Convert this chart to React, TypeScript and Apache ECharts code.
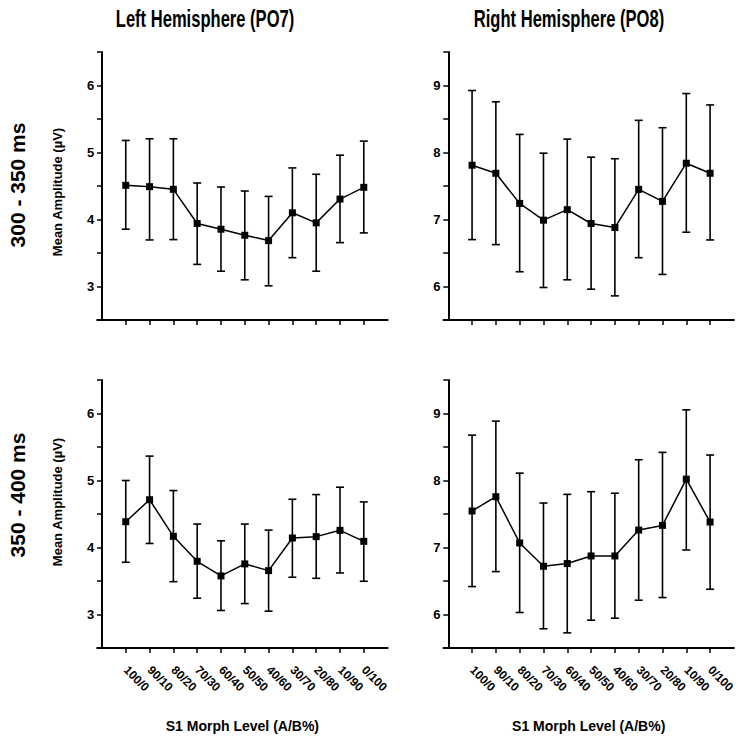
import React, { useEffect, useRef } from "react";
import * as echarts from "echarts";

const categories = ["100/0", "90/10", "80/20", "70/30", "60/40", "50/50", "40/60", "30/70", "20/80", "10/90", "0/100"];

// 300 - 350 ms, Left Hemisphere (PO7)
const leftEarlyMean = [4.51, 4.49, 4.45, 3.94, 3.855, 3.765, 3.685, 4.1, 3.95, 4.305, 4.48];
const leftEarlyUpper = [5.18, 5.205, 5.205, 4.545, 4.485, 4.425, 4.345, 4.77, 4.675, 4.96, 5.17];
const leftEarlyLower = [3.855, 3.695, 3.7, 3.33, 3.228, 3.1, 3.01, 3.43, 3.228, 3.655, 3.8];

// 300 - 350 ms, Right Hemisphere (PO8)
const rightEarlyMean = [7.81, 7.69, 7.24, 6.99, 7.147, 6.94, 6.88, 7.45, 7.27, 7.84, 7.69];
const rightEarlyUpper = [8.925, 8.757, 8.27, 7.99, 8.2, 7.93, 7.907, 8.48, 8.37, 8.88, 8.71];
const rightEarlyLower = [6.7, 6.625, 6.22, 5.985, 6.1, 5.96, 5.86, 6.43, 6.18, 6.81, 6.695];

// 350 - 400 ms, Left Hemisphere (PO7)
const leftLateMean = [4.385, 4.713, 4.167, 3.794, 3.576, 3.755, 3.655, 4.142, 4.162, 4.256, 4.092];
const leftLateUpper = [5.0, 5.364, 4.85, 4.35, 4.1, 4.35, 4.26, 4.72, 4.79, 4.9, 4.68];
const leftLateLower = [3.78, 4.06, 3.49, 3.243, 3.06, 3.163, 3.05, 3.556, 3.54, 3.62, 3.496];

// 350 - 400 ms, Right Hemisphere (PO8)
const rightLateMean = [7.545, 7.758, 7.068, 6.72, 6.76, 6.874, 6.874, 7.26, 7.33, 8.02, 7.38];
const rightLateUpper = [8.677, 8.886, 8.11, 7.664, 7.793, 7.833, 7.81, 8.31, 8.42, 9.055, 8.38];
const rightLateLower = [6.417, 6.64, 6.03, 5.787, 5.726, 5.915, 5.945, 6.213, 6.253, 6.963, 6.377];

const titles = ["Left Hemisphere (PO7)", "Right Hemisphere (PO8)"];
const rowLabels = ["300 - 350 ms", "350 - 400 ms"];
const yAxisName = "Mean Amplitude (\u00b5V)";
const xAxisName = "S1 Morph Level (A/B%)";
const leftYRange = [2.5, 6.5];
const rightYRange = [5.5, 9.5];

const FONT = "'Liberation Sans', Arial, sans-serif";

export default function App() {
  const ref = useRef<HTMLDivElement>(null);
  useEffect(() => {
    if (!ref.current) return;
    const chart = echarts.init(ref.current, undefined, { renderer: "svg" });
    const panels = [
      { mean: leftEarlyMean, up: leftEarlyUpper, lo: leftEarlyLower, range: leftYRange, left: 97.2, top: 52 },
      { mean: rightEarlyMean, up: rightEarlyUpper, lo: rightEarlyLower, range: rightYRange, left: 443.5, top: 52 },
      { mean: leftLateMean, up: leftLateUpper, lo: leftLateLower, range: leftYRange, left: 97.2, top: 380 },
      { mean: rightLateMean, up: rightLateUpper, lo: rightLateLower, range: rightYRange, left: 443.5, top: 380 },
    ];
    const xIdx = categories.map((_, i) => i + 1);
    const grid = panels.map((p) => ({ left: p.left, top: p.top, width: 290.4, height: 268, containLabel: false }));
    const xAxis = panels.map((p, i) => ({
      type: "value",
      gridIndex: i,
      min: -0.2,
      max: 12,
      splitLine: { show: false },
      axisLine: { lineStyle: { color: "#000", width: 2 } },
      axisTick: { show: true, length: 5, inside: false, customValues: xIdx, lineStyle: { color: "#000", width: 1.5 } },
      axisLabel: {
        show: i >= 2,
        customValues: xIdx,
        rotate: -45,
        margin: 20,
        color: "#000",
        fontFamily: FONT,
        fontWeight: "bold",
        fontSize: 12,
        formatter: (v: number) => categories[Math.round(v) - 1] ?? "",
      },
      name: i >= 2 ? xAxisName : "",
      nameLocation: "middle",
      nameGap: 71,
      nameTextStyle: { color: "#000", fontFamily: FONT, fontWeight: "bold", fontSize: 14 },
    }));
    const yAxis = panels.map((p, i) => ({
      type: "value",
      gridIndex: i,
      min: p.range[0],
      max: p.range[1],
      interval: 0.5,
      splitLine: { show: false },
      axisLine: { onZero: true, lineStyle: { color: "#000", width: 2 } },
      axisTick: { show: true, length: 5, lineStyle: { color: "#000", width: 1.5 } },
      axisLabel: {
        margin: 3,
        color: "#000",
        fontFamily: FONT,
        fontWeight: "bold",
        fontSize: 13,
        formatter: (v: number) => (Math.abs(v - Math.round(v)) < 1e-6 && v !== p.range[0] ? String(Math.round(v)) : ""),
      },
    }));
    const series: any[] = [];
    panels.forEach((p, i) => {
      series.push({
        type: "custom",
        xAxisIndex: i,
        yAxisIndex: i,
        clip: false,
        encode: { x: 0, y: [1, 2] },
        data: p.mean.map((_, k) => [k + 1, p.lo[k], p.up[k]]),
        renderItem: (params: any, api: any) => {
          const x = api.value(0);
          const a = api.coord([x, api.value(1)]);
          const b = api.coord([x, api.value(2)]);
          const w = 4;
          const st = { stroke: "#000", lineWidth: 1.6 };
          return {
            type: "group",
            children: [
              { type: "line", shape: { x1: a[0], y1: a[1], x2: b[0], y2: b[1] }, style: st },
              { type: "line", shape: { x1: a[0] - w, y1: a[1], x2: a[0] + w, y2: a[1] }, style: st },
              { type: "line", shape: { x1: b[0] - w, y1: b[1], x2: b[0] + w, y2: b[1] }, style: st },
            ],
          };
        },
        z: 2,
      });
      series.push({
        type: "line",
        xAxisIndex: i,
        yAxisIndex: i,
        data: p.mean.map((v, k) => [k + 1, v]),
        symbol: "rect",
        symbolSize: 7,
        itemStyle: { color: "#000" },
        lineStyle: { color: "#000", width: 1.5 },
        z: 3,
      });
    });
    const graphic: any[] = [];
    titles.forEach((t, i) => {
      graphic.push({
        type: "text",
        x: i === 0 ? 205 : 569,
        y: 19,
        scaleX: 0.72,
        style: { text: t, fill: "#000", font: `bold 23px ${FONT}`, align: "center", verticalAlign: "middle" },
      });
    });
    rowLabels.forEach((t, i) => {
      graphic.push({
        type: "text",
        x: 17,
        y: i === 0 ? 185 : 495,
        rotation: Math.PI / 2,
        style: { text: t, fill: "#000", font: `bold 21px ${FONT}`, align: "center", verticalAlign: "middle" },
      });
      graphic.push({
        type: "text",
        x: 57,
        y: i === 0 ? 192 : 502,
        rotation: Math.PI / 2,
        style: { text: yAxisName, fill: "#000", font: `bold 13px ${FONT}`, align: "center", verticalAlign: "middle" },
      });
    });
    chart.setOption({
      animation: false,
      backgroundColor: "#fff",
      grid,
      xAxis,
      yAxis,
      series,
      graphic,
    });
    return () => chart.dispose();
  }, []);
  return <div ref={ref} style={{ position: "fixed", left: 0, top: 0, width: 738, height: 737 }} />;
}
